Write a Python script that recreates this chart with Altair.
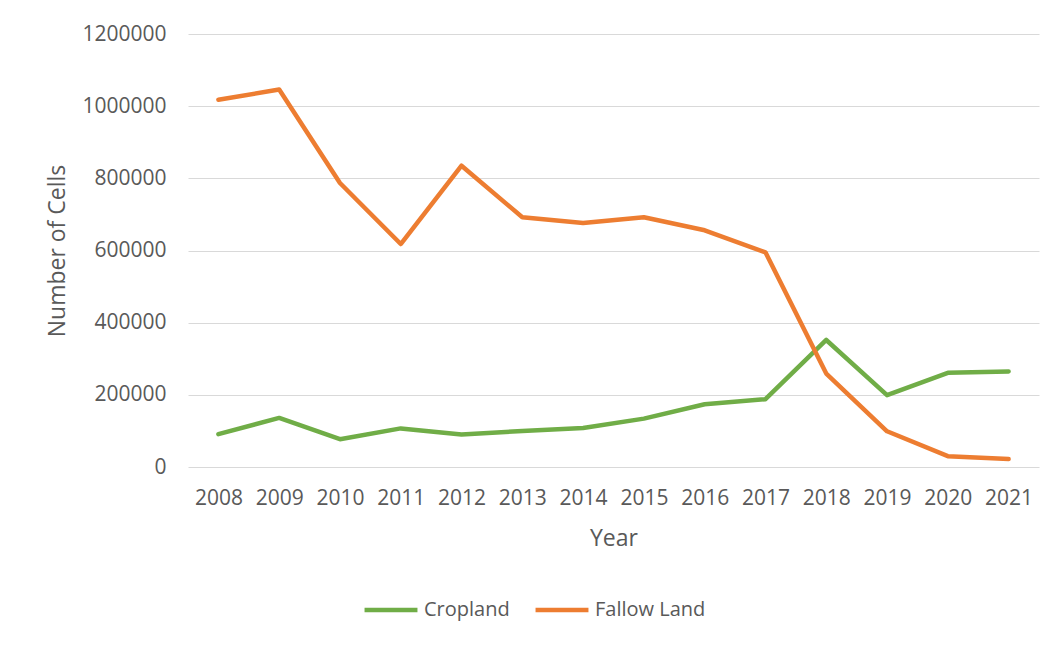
import altair as alt
import pandas as pd

years = [2008, 2009, 2010, 2011, 2012, 2013, 2014, 2015, 2016, 2017, 2018, 2019, 2020, 2021]
cropland = [91000, 136000, 77000, 107000, 90000, 100000, 108000, 134000, 174000, 188000, 352000, 199000, 261000, 265000]
fallow = [1018000, 1046000, 787000, 618000, 835000, 692000, 676000, 692000, 656000, 595000, 259000, 99000, 30000, 22000]
series_names = ["Cropland", "Fallow Land"]
series_colors = ["#70AD47", "#ED7D31"]

rows = []
for name, vals in zip(series_names, [cropland, fallow]):
    for y, v in zip(years, vals):
        rows.append({"Year": str(y), "Series": name, "Value": v})
df = pd.DataFrame(rows)

FONT = "Open Sans"
GREY = "#595959"

chart = alt.Chart(df).mark_line(strokeWidth=4.5, strokeCap="round", strokeJoin="round").encode(
    x=alt.X("Year:O", scale=alt.Scale(type="point", padding=0.5),
            axis=alt.Axis(title="Year", labelAngle=0, domain=False, ticks=False,
                          labelPadding=20, titlePadding=19, grid=False)),
    y=alt.Y("Value:Q", scale=alt.Scale(domain=[0, 1200000], nice=False),
            axis=alt.Axis(title="Number of Cells", values=[0, 200000, 400000, 600000, 800000, 1000000, 1200000],
                          format="d", domain=False, ticks=False, labelPadding=22, titlePadding=12,
                          gridColor="#D9D9D9", gridWidth=1.2)),
    color=alt.Color("Series:N", scale=alt.Scale(domain=series_names, range=series_colors),
                    legend=alt.Legend(title=None, orient="none", direction="horizontal",
                                      legendX=174, legendY=547, symbolType="stroke",
                                      symbolSize=2800, symbolStrokeWidth=4.5, columnPadding=16,
                                      labelFontSize=20, labelFont=FONT, labelColor=GREY, labelOffset=4)),
).properties(
    width=851, height=433,
    autosize=alt.AutoSizeParams(type="none"),
    padding={"left": 180, "top": 26, "right": 10, "bottom": 170},
).configure_axis(
    labelFont=FONT, titleFont=FONT, labelFontSize=21, titleFontSize=23,
    labelColor=GREY, titleColor=GREY, titleFontWeight="normal",
).configure_view(stroke=None)

chart.save("out.html", embed_options={"renderer": "svg", "actions": False})
